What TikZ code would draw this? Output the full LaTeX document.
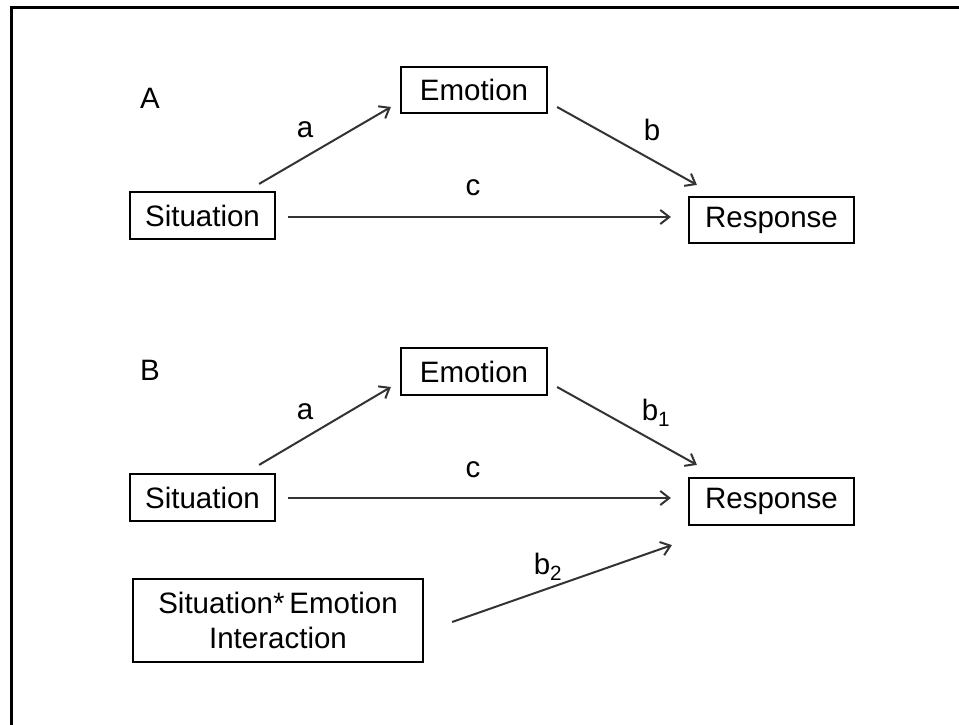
\documentclass[tikz,border=0pt]{standalone}
\usepackage{fontspec}
\setmainfont{Liberation Sans}
\usetikzlibrary{arrows.meta,calc}
\begin{document}
\begin{tikzpicture}[x=1pt,y=-1pt,
  every node/.style={font=\fontsize{29.5}{35}\selectfont, text=black},
  boxnode/.style={draw=black, line width=2.2pt, inner sep=0pt, align=center},
  arr/.style={draw=black!80, line width=2pt, -{Straight Barb[length=9pt,width=14pt,line width=2pt]}},
  lbl/.style={inner sep=0pt}]
\useasboundingbox (0,0) rectangle (959,725);
\fill[white] (0,0) rectangle (959,725);
\draw[line width=3pt, line cap=rect] (11,725) -- (11,8) -- (959,8);

% Panel A
\node[lbl] (labA) at (150,98) {A};
\node[boxnode, minimum width=146pt, minimum height=46pt] (emoA) at (474,90) {Emotion};
\node[boxnode, minimum width=145pt, minimum height=47pt] (sitA) at (202.5,215.5) {Situation};
\node[boxnode, minimum width=165pt, minimum height=46pt] (resA) at (771.5,220) {Response};
\draw[arr] ([xshift=-17pt,yshift=7pt]sitA.north east) -- ([xshift=-9pt,yshift=-17pt]emoA.west);
\draw[arr] ([xshift=12pt,yshift=-1.5pt]sitA.east) -- ([xshift=-17pt,yshift=-1.5pt]sitA.east -| resA.west);
\draw[arr] ([xshift=9pt,yshift=-17pt]emoA.east) -- ([xshift=9pt,yshift=11pt]resA.north west);
\node[lbl] (la) at (305,130) {a};
\node[lbl] (lc) at (473,188) {c};
\node[lbl] (lb) at (652,130) {b};

% Panel B
\node[lbl] (labB) at (150,370) {B};
\node[boxnode, minimum width=146pt, minimum height=47pt] (emoB) at (474,371.5) {Emotion};
\node[boxnode, minimum width=145pt, minimum height=47pt] (sitB) at (202.5,497.5) {Situation};
\node[boxnode, minimum width=165pt, minimum height=47pt] (resB) at (771.5,501.5) {Response};
\node[boxnode, minimum width=290pt, minimum height=83pt] (inter) at (278,620.5) {Situation*\,Emotion\\Interaction};
\draw[arr] ([xshift=-17pt,yshift=8pt]sitB.north east) -- ([xshift=-9pt,yshift=-15.5pt]emoB.west);
\draw[arr] ([xshift=12pt,yshift=-0.5pt]sitB.east) -- ([xshift=-17pt,yshift=-0.5pt]sitB.east -| resB.west);
\draw[arr] ([xshift=9pt,yshift=-15.5pt]emoB.east) -- ([xshift=9pt,yshift=12pt]resB.north west);
\draw[arr] ([xshift=28pt,yshift=-1.5pt]inter.east) -- ([xshift=-16pt,yshift=-19pt]resB.south west);
\node[lbl] (la2) at (305,412) {a};
\node[lbl] (lc2) at (473,470) {c};
\node[lbl] (lb1) at (656,413) {b\textsubscript{1}};
\node[lbl] (lb2) at (548,567) {b\textsubscript{2}};
\end{tikzpicture}
\end{document}
